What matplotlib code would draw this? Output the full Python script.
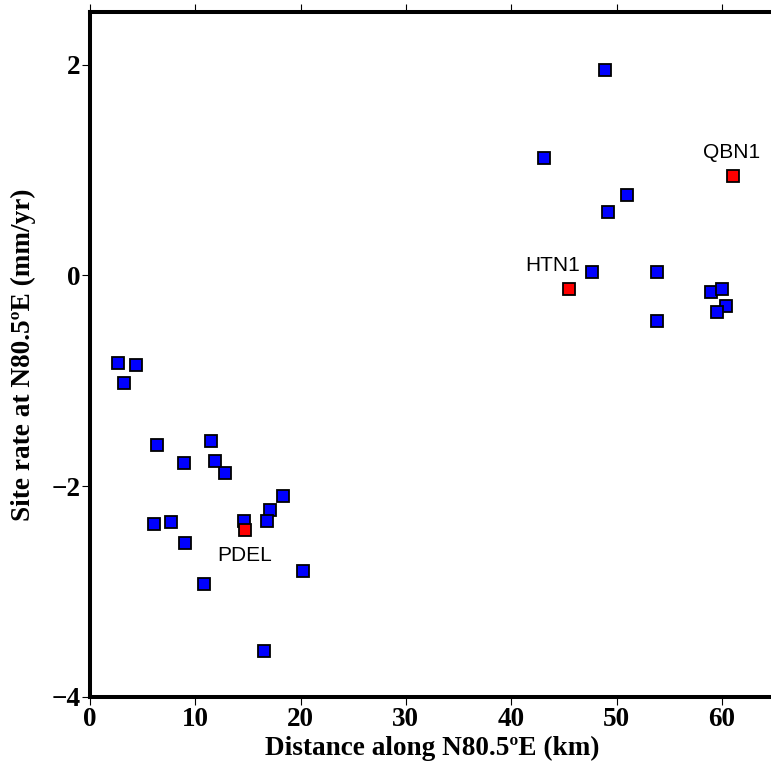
import numpy as np
import matplotlib
matplotlib.use("Agg")
import matplotlib.pyplot as plt

# GPS site rates projected along N80.5E
blue_dist = [2.7, 4.4, 3.2, 6.4, 11.5, 8.9, 11.9, 12.8, 18.3, 17.1, 16.8, 14.6,
             6.1, 7.7, 9.0, 20.2, 10.8, 16.5,
             43.1, 51.0, 49.2, 47.7, 53.8, 59.0, 60.0, 60.4, 59.5, 53.8, 48.9]
blue_rate = [-0.83, -0.85, -1.02, -1.61, -1.57, -1.78, -1.76, -1.87, -2.09, -2.23, -2.33, -2.33,
             -2.36, -2.34, -2.54, -2.80, -2.93, -3.56,
             1.11, 0.76, 0.60, 0.03, 0.03, -0.16, -0.13, -0.29, -0.35, -0.43, 1.95]

red_names = ["PDEL", "HTN1", "QBN1"]
red_dist = [14.7, 45.5, 61.1]
red_rate = [-2.42, -0.13, 0.94]
label_offsets = [(0, -18), (-12, 17), (-1, 17.5)]

x_ticks = [0, 10, 20, 30, 40, 50, 60]
y_ticks = [-4, -2, 0, 2]

fig = plt.figure(figsize=(7.71, 7.69), dpi=100)
ax = fig.add_axes([90 / 771, 72 / 769, 684.5 / 771, 685 / 769])

ax.plot(blue_dist, blue_rate, "s", ms=8.6, mfc=(0, 0, 1), mec="black", mew=1.3, ls="none")
ax.plot(red_dist, red_rate, "s", ms=8.6, mfc=(1, 0, 0), mec="black", mew=1.3, ls="none")

for name, x, y, off in zip(red_names, red_dist, red_rate, label_offsets):
    ax.annotate(name, (x, y), xytext=off, textcoords="offset points",
                ha="center", va="center", fontsize=15, family="Liberation Sans")

ax.set_xlim(0, 65)
ax.set_ylim(-4, 2.5)
ax.set_xticks(x_ticks)
ax.set_yticks(y_ticks)

for s in ["left", "bottom", "top"]:
    ax.spines[s].set_linewidth(2.9)
ax.spines["right"].set_visible(False)

ax.tick_params(axis="both", direction="out", length=6, width=0.8, pad=1,
               labelsize=19.5)
ax.tick_params(axis="x", top=True, labeltop=False)
for lab in ax.get_xticklabels() + ax.get_yticklabels():
    lab.set_family("Liberation Serif")
    lab.set_fontweight("bold")

ax.set_xlabel("Distance along N80.5ºE (km)", family="Liberation Serif",
              fontweight="bold", fontsize=19.6, labelpad=3)
ax.set_ylabel("Site rate at N80.5ºE (mm/yr)", family="Liberation Serif",
              fontweight="bold", fontsize=19.6, labelpad=11)

fig.savefig("out.png", dpi=100)
